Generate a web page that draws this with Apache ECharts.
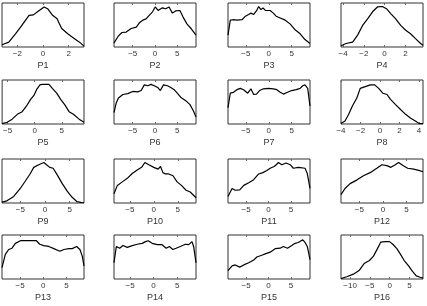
<!DOCTYPE html>
<html><head><meta charset="utf-8">
<script src="https://cdn.jsdelivr.net/npm/echarts@6/dist/echarts.min.js"></script>
<style>html,body{margin:0;padding:0;background:#fff}#c{width:427px;height:306px}</style>
</head><body><div id="c"></div>
<script>
const labels = ['P1','P2','P3','P4','P5','P6','P7','P8','P9','P10','P11','P12','P13','P14','P15','P16'];
const xRanges = [[-3.2,3.2],[-9.2,9.2],[-8.9,9],[-4.2,3.7],[-6,9.1],[-9.2,9.2],[-8.9,9],[-4,4.4],[-8.7,7.9],[-8.3,8.8],[-9,9.2],[-8.9,8.5],[-8.9,8.8],[-8.4,9],[-9,9.2],[-12.3,8.4]];
const xTicks = [[-2,0,2],[-5,0,5],[-5,0,5],[-4,-2,0,2],[-5,0,5],[-5,0,5],[-5,0,5],[-4,-2,0,2,4],[-5,0,5],[-5,0,5],[-5,0,5],[-5,0,5],[-5,0,5],[-5,0,5],[-5,0,5],[-10,-5,0,5]];

const P1 = [[-3.2,0.05],[-2.67,0.11],[-2.15,0.30],[-1.75,0.45],[-1.09,0.72],[-0.75,0.73],[-0.43,0.80],[0.09,0.91],[0.36,0.87],[0.75,0.72],[1.1,0.64],[1.28,0.53],[1.46,0.42],[1.93,0.30],[2.46,0.19],[2.85,0.11],[3.2,0.02]];
const P2 = [[-9.2,0.09],[-8.3,0.24],[-7.4,0.33],[-6.45,0.34],[-5.35,0.42],[-4.2,0.45],[-3.5,0.55],[-2.75,0.61],[-2.0,0.64],[-1.3,0.72],[-0.55,0.80],[0.05,0.91],[0.7,0.83],[1.65,0.89],[2.4,0.87],[3.15,0.91],[3.9,0.77],[4.6,0.82],[5.6,0.83],[6.3,0.68],[7.2,0.52],[8.1,0.42],[9.2,0.27]];
const P3 = [[-8.9,0.27],[-8.4,0.61],[-7.8,0.62],[-6.95,0.61],[-5.85,0.62],[-5.1,0.70],[-4.4,0.74],[-3.9,0.77],[-3.3,0.74],[-2.7,0.82],[-2.2,0.92],[-1.7,0.85],[-1.25,0.89],[-0.75,0.83],[0.3,0.83],[1.0,0.77],[1.6,0.70],[2.5,0.66],[3.6,0.61],[4.7,0.52],[5.75,0.39],[6.85,0.30],[7.9,0.17],[9.0,0.08]];
const P4 = [[-4.2,0.03],[-3.72,0.08],[-3.08,0.11],[-2.6,0.27],[-2.12,0.49],[-1.64,0.64],[-1.16,0.80],[-0.69,0.91],[-0.21,0.92],[0.18,0.87],[0.59,0.76],[1.07,0.64],[1.55,0.49],[2.03,0.38],[2.5,0.30],[2.98,0.19],[3.47,0.08],[3.7,0.04]];
const P5 = [[-6,0.01],[-5.07,0.04],[-4.15,0.11],[-3.2,0.22],[-2.3,0.28],[-1.5,0.41],[-0.75,0.56],[-0.14,0.65],[0.35,0.78],[0.97,0.89],[1.4,0.90],[2.64,0.90],[3.26,0.81],[4.06,0.70],[4.8,0.56],[5.54,0.44],[6.35,0.28],[7.15,0.22],[8.2,0.11],[9.1,0.04]];
const P6 = [[-9.2,0.26],[-8.7,0.48],[-8.2,0.59],[-7.2,0.67],[-6.1,0.69],[-5.0,0.74],[-3.9,0.73],[-3.1,0.76],[-2.4,0.89],[-1.6,0.87],[-0.9,0.90],[-0.15,0.87],[0.6,0.83],[1.2,0.76],[1.9,0.89],[2.8,0.87],[3.55,0.83],[4.3,0.78],[5.0,0.70],[5.75,0.61],[6.9,0.53],[7.85,0.44],[8.6,0.30],[9.2,0.16]];
const P7 = [[-8.9,0.37],[-8.4,0.70],[-7.7,0.72],[-6.95,0.78],[-6.2,0.81],[-5.5,0.78],[-4.6,0.70],[-3.9,0.80],[-3.3,0.67],[-2.7,0.68],[-2.0,0.76],[-1.15,0.80],[-0.05,0.81],[1.0,0.80],[1.75,0.78],[2.5,0.72],[3.2,0.68],[4.1,0.72],[5.0,0.76],[6.0,0.78],[6.85,0.81],[7.4,0.87],[7.9,0.89],[8.5,0.81],[9.0,0.41]];
const P8 = [[-4,0.01],[-3.59,0.07],[-3.24,0.21],[-2.83,0.41],[-2.38,0.59],[-2.03,0.81],[-1.52,0.85],[-1.0,0.89],[-0.55,0.89],[-0.14,0.81],[0.28,0.70],[0.72,0.67],[1.07,0.56],[1.59,0.44],[2.1,0.33],[2.62,0.22],[3.14,0.13],[3.66,0.06],[4.0,0.01],[4.4,0.01]];
const P9 = [[-8.7,0.02],[-7.7,0.05],[-6.33,0.15],[-5.0,0.33],[-3.97,0.50],[-2.96,0.67],[-2.28,0.81],[-1.26,0.87],[-0.24,0.92],[0.31,0.87],[0.98,0.81],[1.66,0.79],[2.48,0.64],[3.5,0.44],[4.5,0.27],[5.5,0.13],[6.5,0.03],[7.9,0.0]];
const P10 = [[-8.3,0.21],[-7.6,0.40],[-6.57,0.48],[-5.53,0.56],[-4.5,0.67],[-3.46,0.75],[-2.55,0.81],[-1.86,0.92],[-1.03,0.87],[0,0.81],[0.9,0.77],[1.4,0.83],[1.9,0.69],[2.44,0.66],[3.1,0.66],[4.0,0.62],[4.86,0.48],[5.76,0.40],[6.74,0.29],[7.6,0.25],[8.8,0.12]];
const P11 = [[-9,0.15],[-8.1,0.33],[-7.4,0.29],[-6.4,0.30],[-5.5,0.40],[-4.4,0.46],[-3.3,0.53],[-2.2,0.66],[-1.26,0.69],[-0.38,0.74],[0.36,0.79],[1.24,0.83],[1.69,0.87],[2.2,0.92],[2.94,0.87],[3.9,0.91],[4.8,0.87],[5.5,0.79],[6.6,0.81],[8.1,0.79],[8.6,0.67],[9.2,0.33]];
const P12 = [[-8.9,0.19],[-8.05,0.33],[-6.98,0.44],[-5.56,0.52],[-4.14,0.62],[-2.72,0.69],[-1.3,0.79],[-0.23,0.87],[0.84,0.85],[1.69,0.81],[2.61,0.87],[3.32,0.92],[4.25,0.85],[5.24,0.79],[6.52,0.77],[7.59,0.74],[8.5,0.71]];
const P13 = [[-8.9,0.26],[-8.18,0.56],[-7.46,0.67],[-6.74,0.70],[-6.01,0.81],[-4.93,0.87],[-3.85,0.87],[-2.41,0.87],[-1.47,0.87],[-0.75,0.79],[0.12,0.76],[1.2,0.74],[2.29,0.69],[3.59,0.63],[4.46,0.67],[5.54,0.69],[6.26,0.69],[7.2,0.74],[7.92,0.67],[8.43,0.52],[8.8,0.30]];
const P14 = [[-8.4,0.37],[-7.9,0.74],[-7.2,0.70],[-6.5,0.76],[-5.58,0.72],[-4.53,0.76],[-3.47,0.79],[-2.41,0.81],[-1.71,0.85],[-1.15,0.87],[-0.3,0.81],[0.76,0.78],[1.8,0.78],[2.67,0.70],[3.36,0.74],[4.07,0.67],[4.77,0.70],[5.68,0.74],[6.74,0.79],[7.45,0.78],[8.15,0.85],[8.5,0.74],[9.0,0.37]];
const P15 = [[-9,0.19],[-8.1,0.30],[-7.4,0.32],[-6.4,0.27],[-5.5,0.32],[-4.4,0.37],[-3.3,0.43],[-2.6,0.50],[-1.5,0.54],[-0.74,0.57],[0.36,0.61],[1.46,0.69],[2.57,0.70],[3.3,0.74],[4.2,0.70],[5.15,0.76],[5.9,0.81],[6.6,0.83],[7.6,0.89],[8.1,0.83],[8.6,0.74],[9.2,0.44]];
const P16 = [[-12.3,0.01],[-10.86,0.05],[-9.17,0.11],[-7.65,0.20],[-6.47,0.35],[-5.12,0.42],[-4.1,0.52],[-3.1,0.69],[-2.25,0.84],[-1.15,0.85],[-0.06,0.85],[0.79,0.79],[1.8,0.69],[2.65,0.57],[3.66,0.42],[4.76,0.30],[5.6,0.19],[6.7,0.07],[7.7,0.04],[8.4,0.02]];
const panels = [P1,P2,P3,P4,P5,P6,P7,P8,P9,P10,P11,P12,P13,P14,P15,P16];

const colLeft = [2, 114, 228, 341];
const rowTop = [3, 80, 159, 235];
const W = 82, H = 44;
const FONT = 'Liberation Sans';

const grid = [], xAxis = [], yAxis = [], series = [];
panels.forEach((d, i) => {
  const r = Math.floor(i / 4), c = i % 4;
  grid.push({left: colLeft[c], top: rowTop[r], width: W, height: H, show: true,
    borderColor: '#333', borderWidth: 1, backgroundColor: 'transparent', containLabel: false});
  xAxis.push({type: 'value', gridIndex: i, min: xRanges[i][0], max: xRanges[i][1],
    position: 'bottom', splitLine: {show: false}, axisLine: {show: false},
    axisTick: {show: true, inside: true, length: 2, customValues: xTicks[i], lineStyle: {color: '#666'}},
    axisLabel: {show: true, customValues: xTicks[i], margin: 3, fontSize: 8, fontFamily: FONT, color: '#333',
      formatter: v => String(v).replace('-', '\u2212')},
    name: labels[i], nameLocation: 'middle', nameGap: 14,
    nameTextStyle: {fontSize: 9, fontFamily: FONT, color: '#333'}});
  yAxis.push({type: 'value', gridIndex: i, min: 0, max: 1, show: false});
  series.push({type: 'line', xAxisIndex: i, yAxisIndex: i, data: d, showSymbol: false, symbol: 'none',
    lineStyle: {color: '#000', width: 1.2}, animation: false, silent: true});
});
// mirrored tick marks along the top edge of each box
panels.forEach((d, i) => {
  xAxis.push({type: 'value', gridIndex: i, min: xRanges[i][0], max: xRanges[i][1],
    position: 'top', splitLine: {show: false}, axisLine: {show: false},
    axisTick: {show: true, inside: true, length: 2, customValues: xTicks[i], lineStyle: {color: '#666'}},
    axisLabel: {show: false}});
});

const chart = echarts.init(document.getElementById('c'), null, {renderer: 'canvas'});
chart.setOption({animation: false, grid, xAxis, yAxis, series});
</script></body></html>
